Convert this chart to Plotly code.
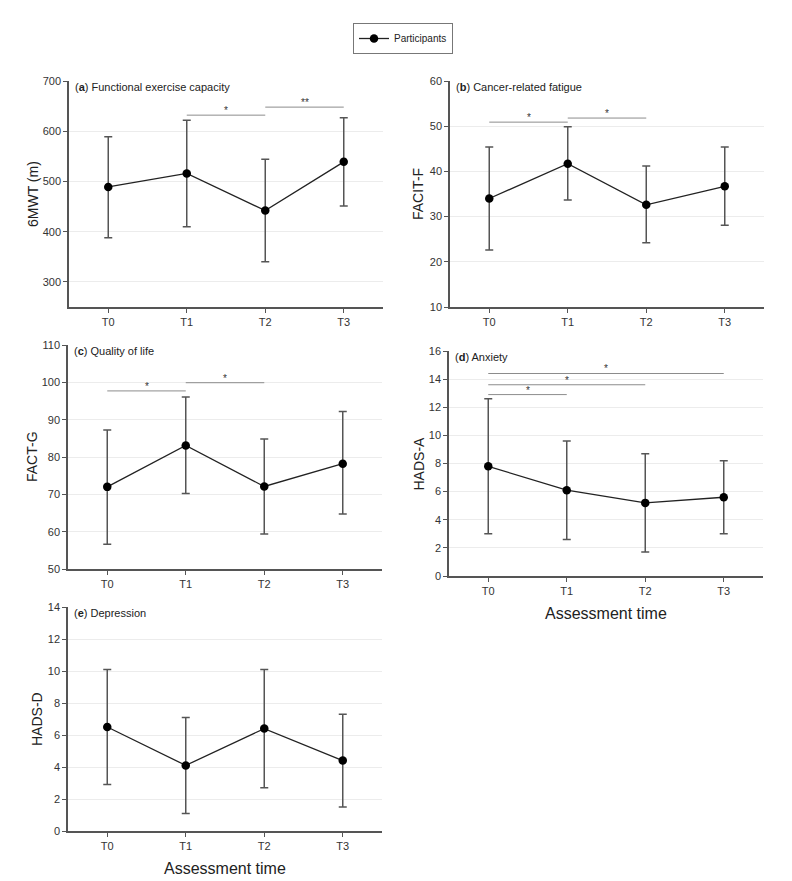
import plotly.graph_objects as go

times = ["T0", "T1", "T2", "T3"]

# (a) Functional exercise capacity - 6MWT (m)
a_mean = [489, 516, 442, 539]
a_upper = [589, 622, 544, 627]
a_lower = [388, 410, 340, 451]
# (b) Cancer-related fatigue - FACIT-F
b_mean = [34.0, 41.7, 32.6, 36.7]
b_upper = [45.4, 49.9, 41.2, 45.4]
b_lower = [22.6, 33.7, 24.2, 28.1]
# (c) Quality of life - FACT-G
c_mean = [72.0, 83.1, 72.1, 78.2]
c_upper = [87.2, 96.1, 84.8, 92.2]
c_lower = [56.6, 70.2, 59.4, 64.7]
# (d) Anxiety - HADS-A
d_mean = [7.8, 6.1, 5.2, 5.6]
d_upper = [12.6, 9.6, 8.7, 8.2]
d_lower = [3.0, 2.6, 1.7, 3.0]
# (e) Depression - HADS-D
e_mean = [6.5, 4.1, 6.4, 4.4]
e_upper = [10.1, 7.1, 10.1, 7.3]
e_lower = [2.9, 1.1, 2.7, 1.5]

# significance brackets: (from index, to index, y, label)
a_sig = [(1, 2, 632, "*"), (2, 3, 648, "**")]
b_sig = [(0, 1, 50.9, "*"), (1, 2, 51.8, "*")]
c_sig = [(0, 1, 97.7, "*"), (1, 2, 99.9, "*")]
d_sig = [(0, 1, 12.9, "*"), (0, 2, 13.6, "*"), (0, 3, 14.4, "*")]
e_sig = []

panels = [
    dict(letter="a", title="Functional exercise capacity", ytitle="6MWT (m)",
         mean=a_mean, up=a_upper, lo=a_lower, sig=a_sig, yr=[250, 700], dt=100, t0=0,
         px=(69, 383), py=(81, 307), ytx=33, xtitle=False),
    dict(letter="b", title="Cancer-related fatigue", ytitle="FACIT-F",
         mean=b_mean, up=b_upper, lo=b_lower, sig=b_sig, yr=[10, 60], dt=10, t0=0,
         px=(450, 764), py=(81, 307), ytx=418, xtitle=False),
    dict(letter="c", title="Quality of life", ytitle="FACT-G",
         mean=c_mean, up=c_upper, lo=c_lower, sig=c_sig, yr=[50, 110], dt=10, t0=0,
         px=(68, 382), py=(345, 569), ytx=32, xtitle=False),
    dict(letter="d", title="Anxiety", ytitle="HADS-A",
         mean=d_mean, up=d_upper, lo=d_lower, sig=d_sig, yr=[0, 16], dt=2, t0=0,
         px=(449, 763), py=(351, 576), ytx=418, xtitle=True),
    dict(letter="e", title="Depression", ytitle="HADS-D",
         mean=e_mean, up=e_upper, lo=e_lower, sig=e_sig, yr=[0, 14], dt=2, t0=0,
         px=(68, 382), py=(607, 831), ytx=37, xtitle=True),
]

OFF = 8  # page body margin
W, H = 792 - OFF, 881 - OFF


def fx(px):
    return (px - OFF) / W


def fy(py):
    return 1 - (py - OFF) / H


fig = go.Figure()
FONT = "Liberation Sans, Arial, sans-serif"
AXC = "#555555"
annotations = []
layout_axes = {}

for i, p in enumerate(panels):
    n = i + 1
    xa = "x" if n == 1 else f"x{n}"
    ya = "y" if n == 1 else f"y{n}"
    xs = list(range(len(times)))
    fig.add_trace(go.Scatter(
        x=xs, y=p["mean"], xaxis=xa, yaxis=ya,
        mode="lines+markers", name="Participants", showlegend=(n == 1),
        line=dict(color="#222222", width=1.3),
        marker=dict(color="black", size=8.5),
        error_y=dict(type="data", symmetric=False,
                     array=[u - m for u, m in zip(p["up"], p["mean"])],
                     arrayminus=[m - l for m, l in zip(p["mean"], p["lo"])],
                     color="#555555", thickness=1.5, width=4),
    ))
    for (i0, i1, yv, lab) in p["sig"]:
        fig.add_trace(go.Scatter(
            x=[i0, i1], y=[yv, yv], xaxis=xa, yaxis=ya, mode="lines",
            line=dict(color="#8c8c8c", width=1), showlegend=False, hoverinfo="skip"))
        annotations.append(dict(x=(i0 + i1) / 2, y=yv, xref=xa, yref=ya, text=lab,
                                showarrow=False, yanchor="bottom", yshift=-3,
                                font=dict(size=10, color="#333333", family=FONT)))
    xd = [fx(p["px"][0]), fx(p["px"][1])]
    yd = [fy(p["py"][1]), fy(p["py"][0])]
    axkey = "xaxis" if n == 1 else f"xaxis{n}"
    aykey = "yaxis" if n == 1 else f"yaxis{n}"
    layout_axes[axkey] = dict(
        domain=xd, anchor=ya, range=[-0.5, 3.5], tickvals=xs, ticktext=times,
        showline=True, linecolor=AXC, linewidth=1.5, ticks="outside", ticklen=4,
        tickcolor=AXC, showgrid=False, zeroline=False, automargin=False,
        tickfont=dict(size=11, color="#333333", family=FONT), fixedrange=True)
    layout_axes[aykey] = dict(
        domain=yd, anchor=xa, range=p["yr"], dtick=p["dt"], tick0=p["t0"],
        showline=True, linecolor=AXC, linewidth=1.5, ticks="outside", ticklen=4,
        tickcolor=AXC, showgrid=True, gridcolor="#ececec", gridwidth=1, zeroline=False,
        automargin=False,
        tickfont=dict(size=11, color="#333333", family=FONT), fixedrange=True)
    # panel label
    annotations.append(dict(
        x=fx(p["px"][0] + 4), y=fy(p["py"][0] + 6), xref="paper", yref="paper",
        xanchor="left", yanchor="middle", showarrow=False,
        text=f"(<b>{p['letter']}</b>) {p['title']}",
        font=dict(size=11, color="#222222", family=FONT)))
    # y-axis title
    annotations.append(dict(
        x=fx(p["ytx"]), y=fy((p["py"][0] + p["py"][1]) / 2), xref="paper", yref="paper",
        xanchor="center", yanchor="middle", showarrow=False, textangle=-90,
        text=p["ytitle"], font=dict(size=14, color="#222222", family=FONT)))
    if p["xtitle"]:
        annotations.append(dict(
            x=fx((p["px"][0] + p["px"][1]) / 2), y=fy(p["py"][1] + 37),
            xref="paper", yref="paper", xanchor="center", yanchor="middle",
            showarrow=False, text="Assessment time",
            font=dict(size=16, color="#222222", family=FONT)))

fig.update_layout(
    template="none",
    width=W, height=H, margin=dict(l=0, r=0, t=0, b=0, autoexpand=False),
    paper_bgcolor="white", plot_bgcolor="white",
    font=dict(family=FONT, color="#222222"),
    showlegend=True,
    legend=dict(x=fx(403), y=fy(23), xanchor="center", yanchor="top",
                bordercolor="#777777", borderwidth=1, bgcolor="white",
                font=dict(size=10, color="#222222", family=FONT), itemwidth=30,
                tracegroupgap=0),
    annotations=annotations,
    **layout_axes,
)

fig.write_html("out.html")
